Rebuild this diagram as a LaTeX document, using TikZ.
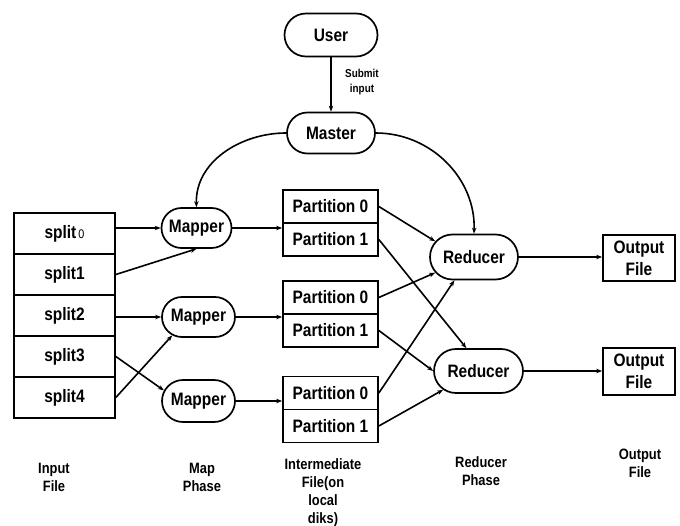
\documentclass[tikz,border=0pt]{standalone}
\usepackage{fontspec}
\setmainfont{Liberation Sans}[FakeStretch=0.86]
\usetikzlibrary{shapes.misc,arrows.meta,calc}
\begin{document}
\begin{tikzpicture}[x=1pt,y=-1pt,
  every node/.style={font=\bfseries\fontsize{18}{22}\selectfont, inner sep=0pt, align=center},
  pill/.style={rounded rectangle, draw, line width=1.7pt},
  box/.style={rectangle, draw, line width=1.7pt},
  arr/.style={line width=1.6pt, -{Stealth[length=6pt,width=4.5pt]}},
  caption/.style={font=\bfseries\fontsize{15}{18}\selectfont},
  small/.style={font=\bfseries\fontsize{11.5}{15}\selectfont}
]
\useasboundingbox (0,0) rectangle (680,526);
% top
\node[pill, minimum width=93, minimum height=43] (u) at (331,35) {User};
\node[pill, minimum width=88, minimum height=41] (ms) at (331,133) {Master};
\node[small] (lbl) at (362,82) {Submit\\input};
% splits
\node[box, minimum width=101, minimum height=41] (s0) at (64.5,233.5) {split{\mdseries\fontsize{12.5}{12}\selectfont\,0}};
\node[box, minimum width=101, minimum height=41] (s1) at (64.5,274.5) {split1};
\node[box, minimum width=101, minimum height=41] (s2) at (64.5,315.5) {split2};
\node[box, minimum width=101, minimum height=41] (s3) at (64.5,356.5) {split3};
\node[box, minimum width=101, minimum height=41] (s4) at (64.5,397.5) {split4};
% mappers
\node[pill, minimum width=70, minimum height=40] (m1) at (196.5,228) {Mapper};
\node[pill, minimum width=73, minimum height=40] (m2) at (198.5,317) {Mapper};
\node[pill, minimum width=73, minimum height=42] (m3) at (198.5,401) {Mapper};
% partitions
\node[box, minimum width=95, minimum height=33] (p10) at (330.5,206.5) {Partition 0};
\node[box, minimum width=95, minimum height=33] (p11) at (330.5,239.5) {Partition 1};
\node[box, minimum width=95, minimum height=33] (p20) at (330.5,297.5) {Partition 0};
\node[box, minimum width=95, minimum height=33] (p21) at (330.5,330.5) {Partition 1};
\node[box, minimum width=95, minimum height=33] (p30) at (330.5,393) {Partition 0};
\node[box, minimum width=95, minimum height=33] (p31) at (330.5,426) {Partition 1};
% reducers
\node[pill, minimum width=88, minimum height=45] (r1) at (474,257) {Reducer};
\node[pill, minimum width=89, minimum height=44] (r2) at (478.5,371) {Reducer};
% outputs
\node[box, minimum width=72, minimum height=46] (o1) at (639,258) {Output\\File};
\node[box, minimum width=72, minimum height=47] (o2) at (639,371.5) {Output\\File};
% captions
\node[caption] (c1) at (54,477) {Input\\File};
\node[caption] (c2) at (202,477) {Map\\Phase};
\node[caption] (c3) at (323,492.5) {Intermediate\\File(on\\local\\diks)};
\node[caption] (c4) at (481,471) {Reducer\\Phase};
\node[caption] (c5) at (640,463.5) {Output\\File};
% connectors
\draw[arr] (u.south) -- (ms.north);
\draw[arr] (ms.west) to[out=180,in=92] (m1.north);
\draw[arr] (ms.east) to[out=0,in=88] (r1.north);
\draw[arr] (s0.east |- m1.west) -- (m1.west);
\draw[arr] (s1.east) -- (m1.south);
\draw[arr] (s2.east |- m2.west) -- (m2.west);
\draw[arr] (s3.east) -- (m3.163);
\draw[arr] (s4.east) -- (m2.215);
\draw[arr] (m1.east) -- (m1.east -| p10.west);
\draw[arr] (m2.east) -- (m2.east -| p20.west);
\draw[arr] (m3.east) -- (m3.east -| p30.west);
\draw[arr] (p10.east) -- (r1.158);
\draw[arr] (p20.east) -- (r1.202);
\draw[arr] (p30.east) -- (r1.230);
\draw[arr] (p11.east) -- (r2.118);
\draw[arr] (p21.east) -- (r2.west);
\draw[arr] (p31.east) -- (r2.208);
\draw[arr] (r1.east) -- (r1.east -| o1.west);
\draw[arr] (r2.east) -- (r2.east -| o2.west);
\end{tikzpicture}
\end{document}
